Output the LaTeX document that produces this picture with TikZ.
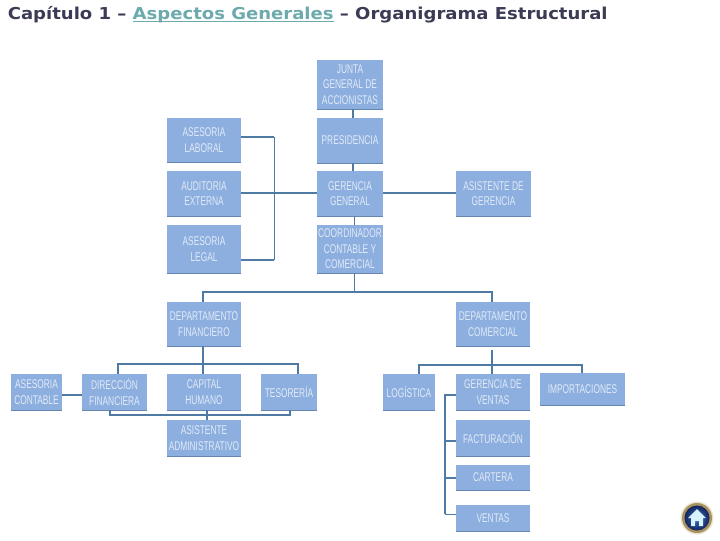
\documentclass[tikz,border=0pt]{standalone}
\usepackage{fontspec}
\setmainfont{DejaVu Sans}
\newfontfamily\boxfont[FakeStretch=0.66]{Liberation Sans}
\newfontfamily\titlefont[FakeStretch=1.1,BoldFont={DejaVu Sans Bold}]{DejaVu Sans Bold}
\definecolor{boxblue}{HTML}{8CAFDF}
\definecolor{boxedge}{HTML}{6688B0}
\definecolor{boxtext}{HTML}{E2EAF7}
\definecolor{linkblue}{HTML}{4F7AA3}
\definecolor{titledark}{HTML}{3B3B55}
\definecolor{titlelink}{HTML}{6DAAAE}
\definecolor{ringgold}{HTML}{A8935E}
\definecolor{halo}{HTML}{E9E4CF}
\definecolor{navyedge}{HTML}{14235E}
\definecolor{midblue}{HTML}{3A78C8}
\tikzset{
  orgnode/.style={fill=boxblue,inner sep=0pt,align=center,text=boxtext,
    font=\boxfont\fontsize{9.5}{11.6}\selectfont},
  bar/.style={draw=linkblue,line width=1.1pt},
  thick bar/.style={draw=linkblue,line width=1.6pt},
  thin bar/.style={draw=linkblue,line width=0.75pt},
}
\newcommand{\orgbox}[6]{%
  \pgfmathsetmacro\bw{(#4-#2)*0.75}%
  \pgfmathsetmacro\bh{(#5-#3)*0.75}%
  \pgfmathsetmacro\bx{(#2+#4)/2}%
  \pgfmathsetmacro\by{(#3+#5)/2}%
  \node[orgnode,minimum width=\bw pt,minimum height=\bh pt] (#1) at (\bx,\by) {#6};
  \draw[boxedge,line width=0.6pt] (#1.south east) -- (#1.south west);
}
\begin{document}
\begin{tikzpicture}[x=0.75pt,y=-0.75pt]
\useasboundingbox (0,0) rectangle (720,540);
\fill[white] (0,0) rectangle (720,540);
\node[anchor=west,inner sep=0pt,font=\titlefont\fontsize{12.3}{14}\selectfont,text=titledark] (title) at (7.5,15)
  {Capítulo 1 – {\color{titlelink}\underline{\smash{Aspectos Generales}}} – Organigrama Estructural};

\orgbox{junta}{317}{60}{383}{109}{JUNTA\\GENERAL DE\\ACCIONISTAS}
\orgbox{pres}{317}{118}{383}{163}{PRESIDENCIA}
\orgbox{ger}{317}{171}{383}{216}{GERENCIA\\GENERAL}
\orgbox{coord}{317}{225}{383}{273}{COORDINADOR\\CONTABLE Y\\COMERCIAL}
\orgbox{lab}{167}{118}{241}{162}{ASESORIA\\LABORAL}
\orgbox{aud}{167}{171}{241}{216}{AUDITORIA\\EXTERNA}
\orgbox{leg}{167}{225}{241}{273}{ASESORIA\\LEGAL}
\orgbox{asg}{456}{171}{531}{216}{ASISTENTE DE\\GERENCIA}
\orgbox{dfin}{167}{302}{241}{346}{DEPARTAMENTO\\FINANCIERO}
\orgbox{dcom}{456}{302}{530}{346}{DEPARTAMENTO\\COMERCIAL}
\orgbox{acon}{11}{374}{62}{410}{ASESORIA\\CONTABLE}
\orgbox{dir}{82}{374}{147}{410}{DIRECCIÓN\\FINANCIERA}
\orgbox{cap}{167}{374}{241}{410}{CAPITAL\\HUMANO}
\orgbox{tes}{261}{374}{317}{410}{TESORERÍA}
\orgbox{adm}{167}{420}{241}{456}{ASISTENTE\\ADMINISTRATIVO}
\orgbox{log}{383}{374}{435}{410}{LOGÍSTICA}
\orgbox{gven}{456}{374}{530}{410}{GERENCIA DE\\VENTAS}
\orgbox{imp}{540}{373}{625}{405}{IMPORTACIONES}
\orgbox{fac}{456}{420}{530}{456}{FACTURACIÓN}
\orgbox{car}{456}{465}{530}{490}{CARTERA}
\orgbox{ven}{456}{505}{530}{531}{VENTAS}

% guide coordinates
\coordinate (cx) at (353,0);
\coordinate (dx) at (354.5,0);
\coordinate (fx) at (203,0);
\coordinate (mx) at (492,0);
\coordinate (rail) at (274,0);
\coordinate (top) at (0,292);
\coordinate (busf) at (0,364);
\coordinate (busb) at (0,415);
\coordinate (busc) at (0,365);
\coordinate (vrail) at (445,0);
\coordinate (gy) at (0,193);
\coordinate (ltop) at (0,137);
\coordinate (lbot) at (0,260);
\coordinate (y395) at (0,395);
\coordinate (y417) at (0,417);
\coordinate (y441) at (0,441);
\coordinate (y478) at (0,478);
\coordinate (y514) at (0,514);
\coordinate (x110) at (110,0);
\coordinate (x118) at (118,0);
\coordinate (x207) at (207,0);
\coordinate (x290) at (290,0);
\coordinate (x298) at (298,0);
\coordinate (x419) at (419,0);
\coordinate (x582) at (582,0);

% upper chain
\draw[thick bar] (junta.south -| cx) -- (pres.north -| cx);
\draw[thick bar] (pres.south -| cx) -- (ger.north -| cx);
\draw[thin bar] (ger.south -| dx) -- (coord.north -| dx);
\draw[bar] (coord.south -| dx) -- (top -| dx);
% advisers
\draw[bar] (lab.east |- ltop) -- (rail |- ltop);
\draw[thin bar] (rail |- ltop) -- (rail |- lbot);
\draw[thick bar] (leg.east |- lbot) -- (rail |- lbot);
\draw[bar] (aud.east |- gy) -- (ger.west |- gy);
\draw[bar] (ger.east |- gy) -- (asg.west |- gy);
% departments
\draw[thick bar] (fx |- dfin.north) -- (fx |- top) -- (mx |- top) -- (mx |- dcom.north);
% finance
\draw[bar] (fx |- dfin.south) -- (fx |- cap.north);
\draw[thick bar] (x118 |- dir.north) -- (x118 |- busf) -- (x298 |- busf) -- (x298 |- tes.north);
\draw[bar] (acon.east |- y395) -- (dir.west |- y395);
\draw[thick bar] (x110 |- dir.south) -- (x110 |- busb) -- (x290 |- busb) -- (x290 |- tes.south);
\draw[bar] (x207 |- cap.south) -- (x207 |- adm.north);
% commercial
\draw[bar] ([yshift=-3pt]mx |- dcom.south) -- (mx |- gven.north);
\draw[thick bar] (x419 |- log.north) -- (x419 |- busc) -- (x582 |- busc) -- (x582 |- imp.north);
\draw[thick bar] (gven.west |- y395) -- (vrail |- y395) -- (vrail |- y417);
\draw[bar] (vrail |- y417) -- (vrail |- y514);
\draw[bar] (fac.west |- y441) -- (vrail |- y441);
\draw[bar] (car.west |- y478) -- (vrail |- y478);
\draw[thin bar] (ven.west |- y514) -- (vrail |- y514);

% home button
\fill[halo] (697,518) circle (16.5*0.75pt);
\fill[ringgold] (697,518) circle (15*0.75pt);
\shade[inner color=midblue,outer color=navyedge] (697,518) circle (12.5*0.75pt);
\fill[white!85!cyan] (688,518) -- (697,509) -- (706,518) -- (703,518) -- (703,526) -- (699,526) -- (699,521) -- (695,521) -- (695,526) -- (691,526) -- (691,518) -- cycle;
\end{tikzpicture}
\end{document}
